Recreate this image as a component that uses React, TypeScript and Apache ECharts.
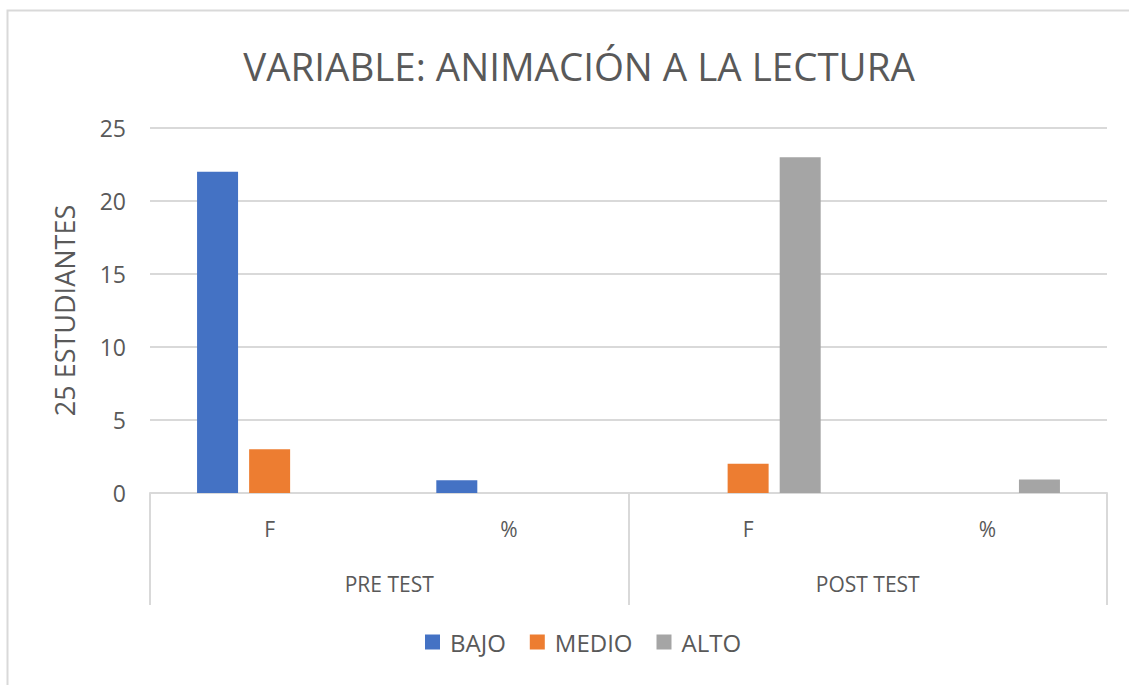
import React, { useEffect, useRef } from "react";
import * as echarts from "echarts";

const categories = ["F", "%", "F", "%"];
const groups = ["PRE TEST", "POST TEST"];
const bajo = [22, 0.88, 0, 0];
const medio = [3, 0, 2, 0];
const alto = [0, 0, 23, 0.92];
const seriesNames = ["BAJO", "MEDIO", "ALTO"];
const colors = ["#4472C4", "#ED7D31", "#A5A5A5"];
const yTicks = [0, 5, 10, 15, 20, 25];

const FONT = "'Open Sans', 'Noto Sans', sans-serif";
const TXT = "#595959";

export default function App() {
  const ref = useRef<HTMLDivElement>(null);
  useEffect(() => {
    const chart = echarts.init(ref.current!, undefined, { renderer: "svg" });
    const data = [bajo, medio, alto];
    chart.setOption({
      animation: false,
      textStyle: { fontFamily: FONT },
      graphic: [
        {
          type: "rect",
          shape: { x: 7.5, y: 10.5, width: 1140, height: 700 },
          style: { fill: "none", stroke: "#d9d9d9", lineWidth: 2 },
          silent: true,
        },
      ],
      title: {
        text: "VARIABLE: ANIMACIÓN A LA LECTURA",
        left: 574,
        textAlign: "center",
        top: 41,
        textStyle: { fontFamily: FONT, fontSize: 38.5, fontWeight: "normal", color: TXT },
      },
      legend: {
        data: seriesNames,
        bottom: 26,
        left: 420,
        itemWidth: 15,
        itemHeight: 15,
        itemGap: 24,
        icon: "rect",
        textStyle: { fontFamily: FONT, fontSize: 24, color: TXT, padding: [0, 0, 0, 5] },
      },
      grid: { left: 150, right: 22, top: 128, bottom: 192, containLabel: false },
      xAxis: [
        {
          type: "category",
          data: categories,
          position: "bottom",
          axisLine: { lineStyle: { color: "#d9d9d9", width: 2 } },
          axisTick: { show: false },
          axisLabel: { fontFamily: FONT, fontSize: 21, color: TXT, margin: 25 },
        },
        {
          type: "category",
          data: groups,
          position: "bottom",
          axisLine: { show: false },
          axisTick: { show: true, length: 112, lineStyle: { color: "#d9d9d9", width: 2 } },
          axisLabel: { fontFamily: FONT, fontSize: 21, color: TXT, margin: 80 },
        },
      ],
      yAxis: {
        type: "value",
        min: yTicks[0],
        max: yTicks[yTicks.length - 1],
        interval: 5,
        name: "25 ESTUDIANTES",
        nameLocation: "middle",
        nameGap: 72,
        nameRotate: 90,
        nameTextStyle: { fontFamily: FONT, fontSize: 27, color: TXT },
        axisLine: { show: false },
        axisTick: { show: false },
        axisLabel: { fontFamily: FONT, fontSize: 23, color: TXT, margin: 24 },
        splitLine: { lineStyle: { color: "#d9d9d9", width: 2 } },
      },
      series: seriesNames.map((name, i) => ({
        name,
        type: "bar",
        xAxisIndex: 0,
        data: data[i],
        barWidth: 41,
        barGap: "27%",
        itemStyle: { color: colors[i] },
      })),
    });
    return () => chart.dispose();
  }, []);
  return (
    <div
      ref={ref}
      style={{ position: "absolute", left: 0, top: 0, width: 1129, height: 685, background: "#fff" }}
    />
  );
}
